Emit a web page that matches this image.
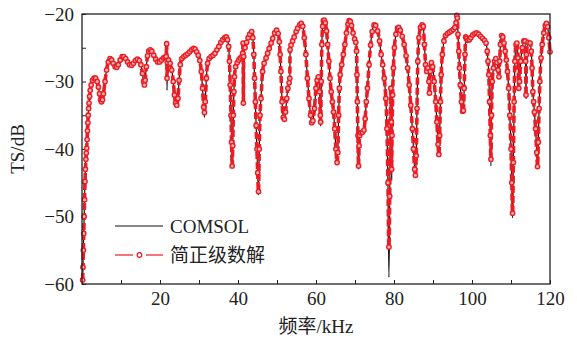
<!DOCTYPE html>
<html>
<head>
<meta charset="utf-8">
<script src="https://cdn.jsdelivr.net/npm/d3@7"></script>
<style>
  body { margin: 0; background: #fff; }
  svg text { font-family: "Liberation Serif", "Noto Sans CJK SC", serif; fill: #222; }
</style>
</head>
<body>
<div id="chart"></div>
<script>
// 简正级数解 (modal series): [frequency kHz, TS dB]
const modalPoints = [
  [0.17,-59.4],[0.25,-57.5],[0.35,-55],[0.45,-52.5],[0.55,-50],[0.65,-47.5],[0.77,-44.8],[0.88,-43],[1.0,-41.5],
  [1.1,-40.6],[1.2,-39.9],[1.3,-38.6],[1.4,-37.3],[1.5,-36.1],[1.6,-35],[1.7,-34],[1.8,-33.2],[1.95,-32.2],
  [2.1,-31.3],[2.35,-30.5],[2.7,-29.8],[3.1,-29.5],[3.5,-29.5],[3.9,-30],[4.2,-30.8],[4.5,-31.8],[4.8,-32.7],
  [5.0,-33.0],[5.25,-32.7],[5.5,-31.8],[5.9,-30.0],[6.3,-28.3],[6.75,-27.1],[7.2,-26.6],[7.6,-26.8],[8.0,-27.3],
  [8.5,-27.8],[8.9,-27.9],[9.3,-27.5],[9.8,-26.8],[10.3,-26.3],[10.7,-26.3],[11.2,-26.6],[11.7,-27.1],[12.2,-27.5],
  [12.7,-27.6],[13.2,-27.3],[13.7,-26.9],[14.2,-26.7],[14.7,-26.9],[15.1,-27.5],[15.5,-28.8],[15.8,-30],[16.0,-30.5],
  [16.2,-29.8],[16.5,-27.8],[16.8,-26.2],[17.1,-25.5],[17.5,-25.3],[17.9,-25.5],[18.4,-26.1],[18.9,-26.7],[19.4,-27.1],
  [19.9,-27.1],[20.4,-26.8],[20.9,-26.5],[21.3,-26.4],[21.6,-26.3],[21.7,-24.4],[21.8,-29.5],[21.9,-27.2],[22.2,-26.8],
  [22.6,-27.3],[23.0,-28.3],[23.4,-30],[23.7,-32],[24.0,-33.2],[24.3,-33.5],[24.6,-32.5],[24.9,-29.8],[25.2,-27.5],
  [25.6,-26.6],[26.1,-26.3],[26.6,-26.1],[27.1,-25.9],[27.6,-25.6],[28.1,-25.3],[28.6,-25.1],[29.0,-25.2],[29.4,-25.6],
  [29.8,-26.1],[30.2,-26.9],[30.6,-28.5],[30.9,-31],[31.2,-33.8],[31.4,-34.6],[31.6,-33],[31.9,-29.5],[32.2,-27.3],
  [32.6,-26.6],[33.1,-26.3],[33.6,-26.1],[34.1,-25.8],[34.6,-25.3],[35.1,-24.8],[35.6,-24.2],[36.1,-23.8],[36.6,-23.5],
  [37.0,-23.4],[37.3,-23.8],[37.6,-24.8],[37.8,-27],[38.0,-30.5],[38.2,-35],[38.35,-39],[38.5,-42.5],[38.65,-39.5],
  [38.8,-35],[38.95,-31.5],[39.1,-29.3],[39.4,-27.8],[39.8,-27.2],[40.2,-26.8],[40.6,-26.5],[41.0,-26.3],[41.2,-25.8],
  [41.3,-24.3],[41.38,-33.2],[41.45,-26.3],[41.8,-25.0],[42.2,-24.2],[42.6,-23.5],[43.0,-23.0],[43.5,-22.6],[43.8,-23.5],
  [44.05,-26],[44.25,-29.5],[44.45,-33],[44.65,-36.5],[44.85,-40],[45.05,-43.5],[45.25,-46.3],[45.45,-40],[45.65,-35],
  [45.9,-32.5],[46.3,-28.5],[46.7,-27.3],[47.2,-26.5],[47.6,-25.8],[48.0,-25.1],[48.5,-24.3],[48.9,-23.6],[49.4,-22.8],
  [49.9,-22.4],[50.3,-22.9],[50.6,-24.1],[50.8,-26],[51.0,-28.5],[51.3,-33],[51.6,-35.3],[51.9,-35.6],[52.2,-34.5],
  [52.5,-32.5],[52.8,-31],[53.1,-30.2],[53.28,-29.5],[53.35,-25.3],[53.6,-24.6],[54.0,-24.0],[54.4,-23.4],[54.9,-22.6],
  [55.3,-22.1],[55.8,-21.6],[56.2,-21.4],[56.6,-21.8],[57.0,-23.5],[57.4,-26],[57.8,-29.5],[58.2,-32.5],[58.6,-35],
  [58.9,-36.1],[59.2,-35.8],[59.6,-34],[60.0,-31],[60.3,-29.8],[60.6,-29.3],[60.9,-31.5],[61.1,-35],[61.2,-36],
  [61.35,-30],[61.5,-24.5],[61.7,-21.8],[61.9,-21],[62.1,-20.9],[62.4,-21.3],[62.7,-22.5],[63.0,-24.5],[63.3,-27],
  [63.6,-29.5],[63.9,-31.5],[64.2,-33],[64.5,-34.5],[64.8,-37],[65.1,-40],[65.4,-42],[65.6,-40.5],[65.8,-35],
  [66.0,-31],[66.2,-29],[66.6,-27.5],[67.0,-26],[67.4,-24.5],[67.8,-22.8],[68.2,-21.5],[68.5,-21],[68.8,-21.1],
  [69.1,-21.7],[69.5,-22.8],[69.9,-23.7],[70.2,-24.2],[70.4,-25.5],[70.5,-29],[70.6,-33],[70.75,-38],[70.9,-42.5],
  [71.05,-39.5],[71.2,-38],[71.5,-37.6],[71.9,-37.5],[72.3,-37.2],[72.6,-35.5],[72.9,-33],[73.2,-31],[73.6,-27.5],
  [74.0,-24.6],[74.4,-22.6],[74.9,-21.6],[75.3,-21.7],[75.8,-22.5],[76.3,-24],[76.7,-26],[77.1,-27.5],[77.5,-29.5],
  [77.9,-32.5],[78.2,-37],[78.45,-45],[78.7,-54.5],[78.9,-47],[79.05,-36],[79.2,-31],[79.3,-36],[79.4,-43],
  [79.5,-38],[79.65,-32],[79.85,-28],[80.1,-25],[80.5,-23],[80.9,-22.1],[81.2,-22.0],[81.6,-22.4],[82.1,-23.3],
  [82.6,-24.5],[83.1,-26.2],[83.5,-28],[83.9,-30.5],[84.3,-33.5],[84.7,-37],[85.0,-40],[85.3,-43],[85.5,-43.9],
  [85.7,-41],[85.9,-34],[86.1,-27],[86.4,-23.5],[86.8,-22],[87.2,-21.6],[87.5,-21.8],[87.8,-24.5],[88.1,-27.5],
  [88.4,-28.5],[88.7,-28.0],[88.95,-30],[89.1,-31.7],[89.3,-28.5],[89.6,-27.2],[89.9,-27.8],[90.3,-30],[90.7,-33],
  [91.0,-36],[91.3,-39.3],[91.5,-40.8],[91.7,-38],[91.9,-33],[92.1,-29],[92.4,-26],[92.8,-24],[93.2,-23.2],
  [93.7,-22.9],[94.2,-22.7],[94.7,-22.5],[95.2,-22.3],[95.6,-22.0],[95.9,-21.3],[96.1,-20.2],[96.25,-20.6],[96.4,-23],
  [96.6,-25.5],[96.8,-28],[97.0,-30.5],[97.3,-33],[97.6,-34.4],[97.8,-34.3],[98.0,-31],[98.2,-26],[98.4,-23.4],
  [98.6,-23.6],[98.9,-23.9],[99.3,-23.8],[99.7,-23.5],[100.2,-23.1],[100.7,-22.9],[101.2,-22.8],[101.7,-23.0],[102.2,-23.3],
  [102.7,-23.6],[103.2,-23.9],[103.6,-24.3],[103.9,-25.5],[104.1,-27],[104.3,-29],[104.5,-33],[104.7,-38],[104.85,-41.5],
  [105.0,-35],[105.2,-30],[105.5,-28],[105.8,-27],[106.1,-26.6],[106.4,-27.2],[106.7,-28.3],[106.9,-29.3],[107.1,-27],
  [107.3,-24.5],[107.6,-23.2],[107.9,-23.4],[108.2,-24.3],[108.5,-25.5],[108.8,-26.8],[109.1,-28.5],[109.4,-31],[109.7,-35],
  [110.0,-40],[110.2,-45],[110.4,-49.5],[110.6,-42],[110.8,-33],[111.0,-27],[111.3,-24.5],[111.5,-24.3],[111.8,-26.5],
  [112.0,-31],[112.2,-30],[112.5,-27],[112.9,-25],[113.3,-24],[113.6,-24],[113.75,-27],[113.85,-32],[113.95,-26],
  [114.4,-24.2],[114.9,-24.3],[115.2,-25.5],[115.4,-28],[115.6,-31.5],[115.8,-33],[116.0,-34.5],[116.3,-37],[116.6,-40.5],
  [116.8,-42.6],[117.0,-39],[117.2,-34],[117.4,-30],[117.7,-26.5],[118.0,-24.5],[118.4,-22.8],[118.8,-21.7],[119.1,-21.4],
  [119.4,-21.9],[119.7,-23.5],[120.0,-25.6]
];

// COMSOL follows the modal curve except where its narrow dips go deeper
const comsolDips = [
  [21.8,-31.3],[31.4,-35.3],[38.5,-42.8],[41.38,-33.5],[45.25,-46.8],[61.2,-36.6],[65.4,-42.3],[70.9,-43],
  [78.7,-59],[79.4,-44.6],[85.5,-44.2],[91.5,-41],[104.85,-42.5],[110.4,-50.2],[113.85,-32.5],[116.8,-42.8]
];

const xTicks = [0, 10, 20, 30, 40, 50, 60, 70, 80, 90, 100, 110, 120];
const yTicks = [-60, -55, -50, -45, -40, -35, -30, -25, -20];
const legendLabels = ['COMSOL', '简正级数解'];

const width = 577;
const height = 341;
const margin = { top: 14, right: 27, bottom: 57, left: 82 };
const red = '#ec1c24';

const dipMap = new Map(comsolDips.map((d) => [d[0], d[1]]));
const comsolPoints = modalPoints.map(([f, v]) => [f, dipMap.has(f) ? dipMap.get(f) : v]);

const svg = d3
  .select('#chart')
  .append('svg')
  .attr('width', width)
  .attr('height', height);

const x = d3
  .scaleLinear()
  .domain([0, 120])
  .range([margin.left, width - margin.right]);

const y = d3
  .scaleLinear()
  .domain([-60, -20])
  .range([height - margin.bottom, margin.top]);

const fmt = d3.format('d');

// axes with inward ticks, labels only every 20 kHz / 10 dB
const xAxis = (g) =>
  g
    .attr('transform', `translate(0,${height - margin.bottom})`)
    .call(
      d3
        .axisBottom(x)
        .tickValues(xTicks)
        .tickSize(-4)
        .tickPadding(8)
        .tickFormat((d) => (d % 20 === 0 && d !== 0 ? fmt(d) : ''))
    );

const yAxis = (g) =>
  g
    .attr('transform', `translate(${margin.left},0)`)
    .call(
      d3
        .axisLeft(y)
        .tickValues(yTicks)
        .tickSize(-4)
        .tickPadding(8)
        .tickFormat((d) => (d % 10 === 0 ? fmt(d) : ''))
    );

svg.append('g').call(xAxis);
svg.append('g').call(yAxis);

svg.selectAll('.domain').remove();
svg.selectAll('.tick line').attr('stroke', '#222').attr('stroke-width', 1);
svg.selectAll('.tick text').style('font-size', '19px').attr('fill', '#222');

// curves
const line = d3
  .line()
  .x((d) => x(d[0]))
  .y((d) => y(d[1]))
  .curve(d3.curveMonotoneX);

svg
  .append('path')
  .datum(comsolPoints)
  .attr('d', line)
  .attr('fill', 'none')
  .attr('stroke', '#111')
  .attr('stroke-width', 1.2);

// thick dashed red trace; the dense markers close the gaps on the flat parts
svg
  .append('path')
  .datum(modalPoints)
  .attr('d', line)
  .attr('fill', 'none')
  .attr('stroke', red)
  .attr('stroke-width', 3.6)
  .attr('stroke-dasharray', '7,3');

svg
  .append('g')
  .selectAll('circle')
  .data(modalPoints)
  .enter()
  .append('circle')
  .attr('cx', (d) => x(d[0]))
  .attr('cy', (d) => y(d[1]))
  .attr('r', 2.2)
  .attr('fill', '#f6b4b4')
  .attr('stroke', red)
  .attr('stroke-width', 1.4);

// frame
svg
  .append('rect')
  .attr('x', margin.left)
  .attr('y', margin.top)
  .attr('width', width - margin.left - margin.right)
  .attr('height', height - margin.top - margin.bottom)
  .attr('fill', 'none')
  .attr('stroke', '#222')
  .attr('stroke-width', 1.3);

// axis titles
svg
  .append('text')
  .attr('transform', `translate(24,${(margin.top + height - margin.bottom) / 2}) rotate(-90)`)
  .attr('text-anchor', 'middle')
  .style('font-size', '19px')
  .text('TS/dB');

svg
  .append('text')
  .attr('x', (margin.left + width - margin.right) / 2)
  .attr('y', 333)
  .attr('text-anchor', 'middle')
  .style('font-size', '19px')
  .text('频率/kHz');

// legend
const legend = svg.append('g');

legend
  .append('line')
  .attr('x1', 115)
  .attr('x2', 163)
  .attr('y1', 226)
  .attr('y2', 226)
  .attr('stroke', '#111')
  .attr('stroke-width', 1.2);

legend
  .append('line')
  .attr('x1', 115)
  .attr('x2', 163)
  .attr('y1', 255)
  .attr('y2', 255)
  .attr('stroke', red)
  .attr('stroke-opacity', 0.8)
  .attr('stroke-width', 1.4)
  .attr('stroke-dasharray', '18,13,17');

legend
  .append('circle')
  .attr('cx', 139.5)
  .attr('cy', 255)
  .attr('r', 2.3)
  .attr('fill', 'none')
  .attr('stroke', red)
  .attr('stroke-width', 1.2);

legendLabels.forEach((label, i) => {
  legend
    .append('text')
    .attr('x', 170)
    .attr('y', 226 + 29 * i)
    .attr('dy', '0.35em')
    .style('font-size', '19px')
    .text(label);
});
</script>
</body>
</html>
